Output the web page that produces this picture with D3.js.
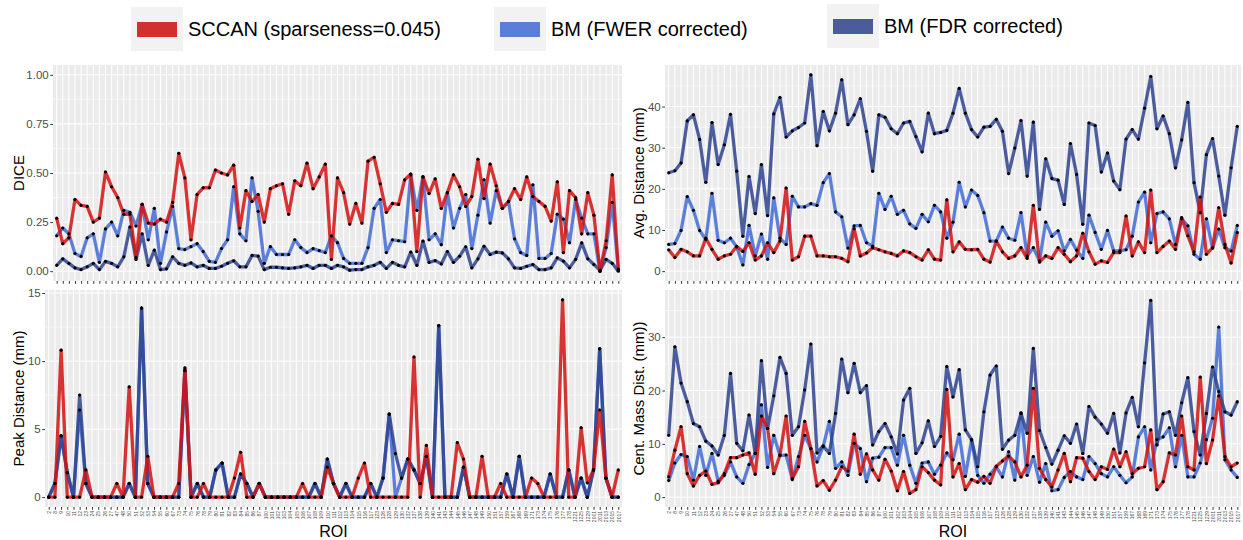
<!DOCTYPE html>
<html>
<head>
<meta charset="utf-8">
<title>SCCAN vs BM</title>
<script src="https://cdn.jsdelivr.net/npm/d3@7"></script>
<style>
  body { margin: 0; background: #fff; }
  svg { display: block; font-family: "Liberation Sans", Arial, sans-serif; }
</style>
</head>
<body>
<div id="chart"></div>
<script>
// ROI labels (x axis)
var roi = ["2","8","9","10","11","12","23","24","25","26","27","47","48","50","51","52","53","54","55","60",
  "67","73","74","75","76","78","79","80","81","82","83","84","85","86","87","100","101","102","103","104",
  "105","106","107","108","109","110","111","112","113","114","115","116","117","123","126","128","129","130",
  "132","137","138","139","140","141","143","144","145","146","147","148","149","150","151","157","159","167",
  "168","169","171","173","174","175","176","177","178","1221","1225","1229","2001","2011","2013","2015","2017"];

var seriesNames = ["SCCAN (sparseness=0.045)", "BM (FWER corrected)", "BM (FDR corrected)"];

// DICE
var diceSccan = [0.27,0.14,0.17,0.365,0.335,0.33,0.25,0.27,0.505,0.43,0.375,0.29,0.29,0.07,0.34,0.245,0.24,0.265,0.25,0.35,
  0.6,0.475,0.16,0.39,0.425,0.425,0.515,0.5,0.49,0.54,0.22,0.41,0.355,0.39,0.25,0.42,0.435,0.445,0.29,0.46,
  0.435,0.55,0.42,0.48,0.545,0.06,0.475,0.4,0.24,0.345,0.245,0.56,0.58,0.445,0.3,0.345,0.34,0.465,0.495,0.1,
  0.48,0.395,0.47,0.32,0.4,0.49,0.43,0.33,0.38,0.57,0.37,0.545,0.435,0.32,0.355,0.42,0.365,0.48,0.38,0.355,
  0.33,0.255,0.455,0.095,0.41,0.375,0.19,0.4,0.285,0.0,0.155,0.49,0.01];
var diceFwer = [0.18,0.22,0.19,0.09,0.075,0.17,0.19,0.045,0.215,0.25,0.18,0.31,0.3,0.23,0.34,0.16,0.32,0.04,0.2,0.33,
  0.115,0.11,0.125,0.14,0.1,0.05,0.045,0.115,0.16,0.43,0.19,0.155,0.475,0.305,0.04,0.125,0.085,0.085,0.085,0.16,
  0.12,0.095,0.115,0.105,0.095,0.18,0.145,0.065,0.04,0.04,0.04,0.12,0.32,0.365,0.095,0.16,0.155,0.15,0.49,0.31,
  0.48,0.16,0.19,0.135,0.4,0.22,0.32,0.39,0.115,0.285,0.465,0.245,0.41,0.32,0.355,0.165,0.095,0.08,0.44,0.065,
  0.065,0.09,0.29,0.265,0.145,0.365,0.27,0.19,0.19,0.0,0.12,0.35,0.005];
var diceFdr = [0.03,0.063,0.04,0.017,0.008,0.022,0.04,0.008,0.05,0.04,0.022,0.073,0.225,0.06,0.19,0.03,0.107,0.008,0.012,0.073,
  0.04,0.03,0.042,0.022,0.03,0.014,0.014,0.025,0.04,0.053,0.022,0.022,0.08,0.077,0.008,0.02,0.02,0.017,0.014,0.017,
  0.022,0.03,0.014,0.03,0.03,0.014,0.03,0.022,0.005,0.008,0.008,0.022,0.03,0.045,0.014,0.045,0.03,0.022,0.097,0.03,
  0.153,0.045,0.054,0.037,0.1,0.045,0.076,0.124,0.017,0.063,0.127,0.085,0.097,0.093,0.063,0.017,0.014,0.025,0.034,0.008,
  0.008,0.017,0.068,0.051,0.017,0.06,0.144,0.063,0.034,0.005,0.06,0.04,0.0];

// Avg. Distance (mm)
var avgSccan = [5.2,3.3,5.3,4.7,3.7,3.7,8,5.3,2.9,3.7,4.1,6,4.8,6.9,2.7,3.7,6.9,4.5,7.3,20.2,
  2.7,3.5,8.5,8.5,3.7,3.7,3.5,3.5,3.1,2.3,10.3,3.7,4.4,5.7,5.2,4.7,4.3,3.7,4.9,4.5,
  3.5,2.7,5.2,2.9,2.7,17.3,4.7,7.1,5.3,5.2,5.3,2.9,2.2,7.3,4.7,3.1,3.7,5.7,3.1,16,
  2.2,3.7,3.1,5.7,4.1,2.3,3.7,9.2,4.7,1.7,2.5,2.1,4.5,4.5,13.4,3.7,7.1,4.5,19.7,4.5,
  6,7.3,5.3,13,8.6,4.7,18,4.1,5.7,15.4,6.5,2,9.4];
var avgFwer = [6.5,6.7,9.9,18.1,14.8,9.9,7.7,18.9,7.5,6.9,8,5.9,1.5,11.1,3.7,9,2.9,17.8,8,6.5,
  18.2,15.6,15.6,16.4,16,21.5,23.7,14.4,13.2,5.6,11,11.1,6.9,6.1,18.9,15,18.2,13.8,14.8,11.5,
  10.4,13.8,12,16,14.4,8,11.9,21.6,15.6,19.7,18.4,14.2,7.3,7.3,10.7,8,7.5,14.2,3.7,5.7,
  2.5,11.9,8.5,9.8,4.9,7.7,5.1,3.1,13.6,9.4,5.3,9.9,4.9,4.9,5.2,8.5,16.8,19.2,6.9,14,
  14.4,12.7,6.5,12.7,11,4.1,2.9,12.7,5.6,10.2,5.7,4.9,11.1];
var avgFdr = [23.9,24.4,26.3,36.5,38,32,21.6,36.1,25.9,30.7,38.1,24.3,8.5,23,14,25.9,13.5,38.2,42.2,32.6,
  34.1,34.9,36,47.7,30.5,38.8,34.1,38.4,46.5,35.6,38,41.9,34,24.3,38,37.4,34.6,33.4,36,36.4,
  32.7,29,38.4,33.4,33.7,34.2,38.4,44.4,38.4,34.4,32.6,35,35.2,36.9,34,23.7,29.9,36.6,23.1,36.2,
  15,27.3,22.5,22.1,16.2,31,23.5,11.4,36,35.4,24.1,28.7,21.9,19.8,32.1,34.4,32.1,39.6,47.3,34.6,
  37.7,33.4,25.1,31.9,41,21.5,14.2,28.3,32.2,23.1,13.6,25.1,35.2];

// Peak Distance (mm)
var peakSccan = [0,0,10.8,0,0,0,2,0,0,0,0,1,0,8.1,0,0,3,0,0,0,
  0,1,9.5,0,0,1,0,0,0,0,1.4,3.3,0,0,1,0,0,0,0,0,
  0,1,0,0,0,2.2,1,0,0,0,1.4,2.5,0,0,0,0,0,0,0,10.3,
  0,3.8,0,0,0,0,4,2.8,0,0,3,0,0,1,0,0,0,0,1.4,1,
  0,0,0,14.5,0,0,5.1,1.05,2,6.4,1.4,0,2];
var peakFwer = [0,1,4.5,1.8,0,6.4,1,0,0,0,0,0,0,1,0,13.9,1,0,0,0,
  0,0,9.3,0,1,0,0,2,2.5,0,0,1.7,1,0,1,0,0,0,0,0,
  0,0,0,1,0,2.8,1,0,1,0,0,0,1,0,1.4,6.1,0,1.4,2.8,2,
  1,3,0,12.6,0,0,0,2.2,0,0,0,0,0,0,1.7,0,3,0,0,0,
  0,1.7,0,0,2,0,1.4,0,2,10.9,1.4,0,0];
var peakFdr = [0,1,4.5,1.8,0,7.5,1,0,0,0,0,0,0,1,0,13.9,1,0,0,0,
  0,0,9.3,0,1,0,0,2,2.5,0,0,1.7,1,0,1,0,0,0,0,0,
  0,0,0,1,0,2.8,1,0,1,0,0,0,1,0,1.4,6.1,3.2,1.4,2.8,2,
  1,3,0,12.6,0,0,0,2.2,0,0,0,0,0,0,1.7,0,3,0,0,0,
  0,1.7,0,0,2,0,1.4,0,2,10.9,1.4,0,0];

// Cent. Mass Dist. (mm)
var cmSccan = [3.8,8.8,13.2,4.4,2.1,4.1,4.9,2.4,2.7,4.4,7.4,7.4,7.9,8.3,4.3,15.2,12.9,4.4,7.9,15.2,
  3.5,5.7,14.2,9.1,2.1,3.1,1.3,3.2,5.7,4.9,11.8,4.3,8.1,5.1,3.2,7.1,4.9,1.2,4.8,0.7,
  1.4,5.7,4.6,3.2,2.3,20.2,3.8,6.3,1.4,3.3,2.8,3.9,2.6,5.8,6.8,7.7,6.6,3.8,6,20.4,
  5.4,3.3,1.9,5.1,8.2,2.9,7.4,7.3,4.8,3.3,5.7,5.2,9,5.7,8.5,4.4,5.4,5.7,12.6,1.4,
  2.9,8.3,7.9,15.2,5.7,5.1,22.5,6.3,10.7,19,7.6,5.7,6.4];
var cmFwer = [3.1,6.4,8,7.6,3.2,9.5,4.1,8.2,3,4.1,6.6,3.8,2.6,6.1,8.2,17.3,5.6,11.6,7.8,7.9,
  3.3,7.6,11.6,9.1,6.6,9.5,14.2,5.4,6.6,4.1,10.1,9.1,2.9,7.3,7.5,9.3,9.3,6,11.6,6,
  2.6,6.4,6.6,4.3,6,8.3,7,11.8,3.9,10.7,4.1,2.6,4.3,5.7,3.8,8.5,3.2,15.8,4.1,7.6,
  2.8,6.3,1.2,1.4,3.7,4.8,3.8,3.3,7.6,6.3,4.4,3.8,5.7,4.1,2.7,3.8,11.3,13.2,5.1,10.8,
  11.3,13,5.7,11.6,3.8,3.8,6.4,10.8,14.8,31.9,7,5.1,3.7];
var cmFdr = [11.6,28.2,21.4,17.9,13.8,13.2,10.5,9.6,7.9,11.6,23.2,10.1,8.7,15.4,8.2,25.6,12.9,19,26.2,23.2,
  11.6,13.2,20.1,28.7,8.3,9.6,8.2,15.7,25.9,19.6,25.1,19.6,20.9,9.8,12.3,13.8,11.3,8.1,18.2,20.4,
  8.2,10.2,14.3,9.5,11.4,24.5,18.8,23.9,12.6,10.8,5.7,16,22.9,24.6,9,10.7,11.6,15.7,12,27.9,
  12.5,9.3,6.2,8.8,11.5,10.1,13.7,8.2,17,15,13.7,12,15.7,8.3,15.8,18.7,13.2,25.2,36.9,9.8,
  15.6,16,11.6,17.7,22.4,12.3,7.9,15.7,24.4,19.8,16,15.4,17.9];

// drawing styles (order: FWER under FDR under SCCAN)
var lineColors = {sccan: "#d41212", fwer: "#426cd5", fdr: "#2e438e"};
var keyColors = ["#d32f2f", "#5b7fd8", "#4b5c9b"];

var panels = [
  {x0: 53, x1: 622, y0: 65, y1: 281, domain: [-0.05, 1.05], ticks: [0, 0.25, 0.5, 0.75, 1], minor: [0.125, 0.375, 0.625, 0.875],
   fmt: d3.format(".2f"), title: "DICE", titleX: 19, labels: false,
   data: [["fwer", diceFwer], ["fdr", diceFdr], ["sccan", diceSccan]]},
  {x0: 665, x1: 1241, y0: 65, y1: 281, domain: [-2.4, 50.1], ticks: [0, 10, 20, 30, 40], minor: [5, 15, 25, 35, 45],
   fmt: d3.format("d"), title: "Avg. Distance (mm)", titleX: 639, labels: false,
   data: [["fwer", avgFwer], ["fdr", avgFdr], ["sccan", avgSccan]]},
  {x0: 45, x1: 622, y0: 290, y1: 507, domain: [-0.725, 15.225], ticks: [0, 5, 10, 15], minor: [2.5, 7.5, 12.5],
   fmt: d3.format("d"), title: "Peak Distance (mm)", titleX: 19, labels: true,
   data: [["fwer", peakFwer], ["fdr", peakFdr], ["sccan", peakSccan]]},
  {x0: 665, x1: 1241, y0: 290, y1: 507, domain: [-1.85, 38.85], ticks: [0, 10, 20, 30], minor: [5, 15, 25, 35],
   fmt: d3.format("d"), title: "Cent. Mass Dist. (mm))", titleX: 639, labels: true,
   data: [["fwer", cmFwer], ["fdr", cmFdr], ["sccan", cmSccan]]}
];

var svg = d3.select("#chart").append("svg")
  .attr("width", 1243).attr("height", 540);

panels.forEach(function(p) {
  var x = d3.scalePoint().domain(roi).range([p.x0, p.x1]).padding(0.6);
  var y = d3.scaleLinear().domain(p.domain).range([p.y1, p.y0]);
  var g = svg.append("g");

  g.append("rect").attr("x", p.x0).attr("y", p.y0)
    .attr("width", p.x1 - p.x0).attr("height", p.y1 - p.y0).attr("fill", "#ebebeb");

  g.selectAll(".minor").data(p.minor).enter().append("line")
    .attr("x1", p.x0).attr("x2", p.x1)
    .attr("y1", function(d) { return y(d); }).attr("y2", function(d) { return y(d); })
    .attr("stroke", "#fff").attr("stroke-width", 0.5);
  g.selectAll(".major").data(p.ticks).enter().append("line")
    .attr("x1", p.x0).attr("x2", p.x1)
    .attr("y1", function(d) { return y(d); }).attr("y2", function(d) { return y(d); })
    .attr("stroke", "#fff").attr("stroke-width", 1);
  g.selectAll(".vgrid").data(roi).enter().append("line")
    .attr("x1", function(d) { return x(d); }).attr("x2", function(d) { return x(d); })
    .attr("y1", p.y0).attr("y2", p.y1)
    .attr("stroke", "#fff").attr("stroke-width", 1);

  var line = d3.line()
    .x(function(d, i) { return x(roi[i]); })
    .y(function(d) { return y(d); });

  p.data.forEach(function(s) {
    g.append("path").datum(s[1])
      .attr("d", line)
      .attr("fill", "none")
      .attr("stroke", lineColors[s[0]])
      .attr("stroke-opacity", 0.85)
      .attr("stroke-width", 3.3)
      .attr("stroke-linejoin", "round");
  });
  p.data.forEach(function(s) {
    g.selectAll(null).data(s[1]).enter().append("circle")
      .attr("cx", function(d, i) { return x(roi[i]); })
      .attr("cy", function(d) { return y(d); })
      .attr("r", 1.6)
      .attr("fill", "#000");
  });

  // y axis
  var yAxis = g.append("g").attr("transform", "translate(" + p.x0 + ",0)")
    .call(d3.axisLeft(y).tickValues(p.ticks).tickFormat(p.fmt).tickSize(2.75).tickPadding(1.5));
  yAxis.select(".domain").remove();
  yAxis.selectAll("line").attr("stroke", "#333");
  yAxis.selectAll("text").attr("fill", "#4d4d4d").style("font-size", "11.5px")
    .style("font-family", "Liberation Sans, Arial, sans-serif");

  // x axis
  var xAxis = g.append("g").attr("transform", "translate(0," + p.y1 + ")")
    .call(d3.axisBottom(x).tickSize(2.75).tickPadding(2));
  xAxis.select(".domain").remove();
  xAxis.selectAll("line").attr("stroke", "#333");
  if (p.labels) {
    xAxis.selectAll("text")
      .attr("fill", "#4d4d4d")
      .style("font-size", "5px")
      .style("font-family", "Liberation Sans, Arial, sans-serif")
      .attr("transform", "rotate(-90)")
      .attr("x", -4).attr("y", 0).attr("dy", "0.35em")
      .attr("text-anchor", "end");
    svg.append("text")
      .attr("x", (p.x0 + p.x1) / 2).attr("y", 537)
      .attr("text-anchor", "middle")
      .style("font-size", "16px").attr("fill", "#000")
      .text("ROI");
  } else {
    xAxis.selectAll("text").remove();
  }

  svg.append("text")
    .attr("transform", "translate(" + p.titleX + "," + ((p.y0 + p.y1) / 2) + ") rotate(-90)")
    .attr("text-anchor", "middle").attr("dy", "0.35em")
    .style("font-size", "15px").attr("fill", "#000")
    .text(p.title);
});

// legend
var legendX = [137, 500, 833];
var legendY = [29, 29, 26];
var leg = svg.append("g");
seriesNames.forEach(function(name, i) {
  leg.append("rect").attr("x", legendX[i] - 6).attr("y", legendY[i] - 22)
    .attr("width", 52).attr("height", 44).attr("fill", "#f2f2f2");
  leg.append("rect").attr("x", legendX[i]).attr("y", legendY[i] - 7)
    .attr("width", 40).attr("height", 15).attr("fill", keyColors[i]);
  leg.append("text").attr("x", legendX[i] + 51).attr("y", legendY[i])
    .attr("dy", "0.35em").style("font-size", "20px").attr("fill", "#000")
    .text(name);
});
</script>
</body>
</html>
